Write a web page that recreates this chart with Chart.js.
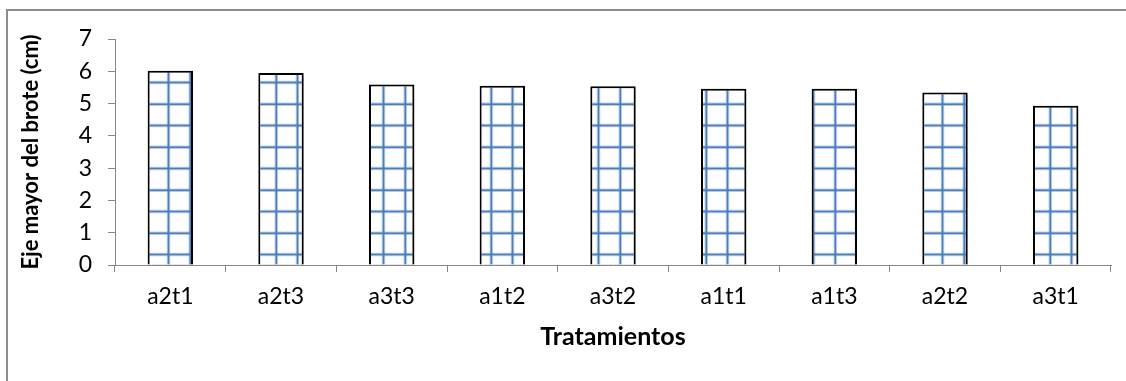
<!DOCTYPE html>
<html>
<head>
<meta charset="utf-8">
<script src="https://cdn.jsdelivr.net/npm/chart.js@4.4.1/dist/chart.umd.min.js"></script>
<style>
  html, body { margin: 0; padding: 0; background: #fff; }
  canvas { display: block; }
</style>
</head>
<body>
<canvas id="barChart" width="1126" height="381"></canvas>
<script>
// categorías (eje X)
const labels = ['a2t1', 'a2t3', 'a3t3', 'a1t2', 'a3t2', 'a1t1', 'a1t3', 'a2t2', 'a3t1'];
// eje mayor del brote (cm)
const values = [6.02, 5.95, 5.59, 5.55, 5.54, 5.46, 5.46, 5.34, 4.93];
// ticks del eje Y
const yTicks = [0, 1, 2, 3, 4, 5, 6, 7];

const gris = '#868686';

// trama de cuadrícula azul (como el relleno de Excel)
function makeGrid() {
  const c = document.createElement('canvas');
  c.width = 43;
  c.height = 43;
  const g = c.getContext('2d');
  g.fillStyle = '#fff';
  g.fillRect(0, 0, 43, 43);
  const pos = [18.3, 39.5];
  // halo claro
  g.strokeStyle = 'rgba(79,129,189,0.4)';
  g.lineWidth = 3.5;
  pos.forEach(p => {
    g.beginPath(); g.moveTo(p, 0); g.lineTo(p, 43); g.stroke();
    g.beginPath(); g.moveTo(0, p); g.lineTo(43, p); g.stroke();
  });
  // línea central
  g.strokeStyle = '#4a7ebb';
  g.lineWidth = 1.5;
  pos.forEach(p => {
    g.beginPath(); g.moveTo(p, 0); g.lineTo(p, 43); g.stroke();
    g.beginPath(); g.moveTo(0, p); g.lineTo(43, p); g.stroke();
  });
  return c;
}

const ctx = document.getElementById('barChart').getContext('2d');
const pattern = ctx.createPattern(makeGrid(), 'repeat');

// marco gris del gráfico (solo arriba e izquierda visibles)
const marco = {
  id: 'marco',
  beforeDraw(chart) {
    const c = chart.ctx;
    c.save();
    c.strokeStyle = '#8c8c8c';
    c.lineWidth = 2;
    c.beginPath();
    c.moveTo(7, 381);
    c.lineTo(7, 10);
    c.lineTo(1126, 10);
    c.stroke();
    c.restore();
  }
};

// sombra suave de las barras
const sombra = {
  id: 'sombra',
  beforeDatasetsDraw(chart) {
    const c = chart.ctx;
    c.save();
    c.shadowColor = 'rgba(0,0,0,0.3)';
    c.shadowBlur = 4;
    c.shadowOffsetX = 2;
    c.shadowOffsetY = 2;
  },
  afterDatasetsDraw(chart) {
    chart.ctx.restore();
  }
};

Chart.defaults.font.family = 'Lato';
Chart.defaults.color = '#000';

new Chart(ctx, {
  type: 'bar',
  data: {
    labels: labels,
    datasets: [{
      label: 'Eje mayor del brote (cm)',
      data: values,
      backgroundColor: pattern,
      borderColor: '#000',
      borderWidth: 2,
      barPercentage: 0.41,
      categoryPercentage: 1
    }]
  },
  options: {
    responsive: false,
    animation: false,
    devicePixelRatio: 1,
    layout: { padding: { top: 39, right: 15, left: 0, bottom: 0 } },
    plugins: {
      legend: { display: false },
      tooltip: { enabled: false }
    },
    scales: {
      x: {
        grid: { display: true, drawOnChartArea: false, offset: true, tickLength: 7, color: gris },
        border: { color: gris, width: 1 },
        ticks: { font: { size: 23 }, padding: 11, color: '#000' },
        title: {
          display: true,
          text: 'Tratamientos',
          font: { size: 25, weight: 'bold' },
          padding: { top: 29, bottom: 29 }
        },
        afterFit(scale) { scale.height = 116; }
      },
      y: {
        min: 0,
        max: 7,
        afterBuildTicks(scale) { scale.ticks = yTicks.map(v => ({ value: v })); },
        grid: { display: true, drawOnChartArea: false, tickLength: 7, color: gris },
        border: { color: gris, width: 1 },
        ticks: { font: { size: 23 }, padding: 16, color: '#000' },
        title: {
          display: true,
          text: 'Eje mayor del brote (cm)',
          font: { size: 22, weight: 'bold' },
          padding: { top: 18, bottom: 18 }
        },
        afterFit(scale) { scale.width = 115; }
      }
    }
  },
  plugins: [marco, sombra]
});
</script>
</body>
</html>
